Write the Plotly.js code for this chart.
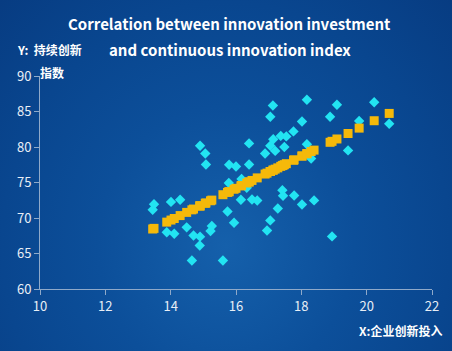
<!DOCTYPE html>
<html><head><meta charset="utf-8">
<script src="https://cdn.plot.ly/plotly-3.0.1.min.js"></script>
<style>
html,body{margin:0;padding:0;}
body{width:452px;height:351px;overflow:hidden;
background: radial-gradient(ellipse at 50% 70%, #1560ab 0%, #0c4f9a 40%, #09468f 70%, #073c82 100%);}
#chart{width:452px;height:351px;}
</style></head>
<body><div id="chart"></div>
<script>
const investX = [13.45,13.49,13.88,14.01,14.11,14.29,14.49,14.65,14.70,14.90,14.90,14.89,15.06,15.08,15.22,15.26,15.60,15.74,15.78,15.79,15.94,16.00,16.15,16.17,16.33,16.40,16.40,16.49,16.65,16.89,16.95,17.05,17.05,17.05,17.13,17.14,17.20,17.28,17.37,17.42,17.44,17.48,17.54,17.76,17.78,18.02,18.02,18.17,18.17,18.30,18.39,18.88,18.94,19.09,19.43,19.77,20.23,20.69];
const indexY = [71.17,71.94,68.0,72.27,67.79,72.58,68.68,64.01,67.54,80.18,67.37,66.13,79.08,77.54,68.17,68.87,64.01,70.92,74.93,77.51,69.34,77.25,72.58,75.49,74.27,80.51,77.54,72.61,72.46,79.08,68.25,84.27,80.18,69.66,85.85,81.10,79.45,71.34,81.56,73.92,73.14,80.01,81.49,82.20,73.17,71.90,83.59,86.66,80.39,78.39,72.48,84.27,67.41,85.96,79.52,83.66,86.31,83.28];
const fittedY = [68.45,68.54,69.42,69.71,69.93,70.34,70.79,71.15,71.26,71.71,71.71,71.69,72.07,72.12,72.43,72.52,73.28,73.60,73.69,73.71,74.05,74.18,74.52,74.57,74.93,75.08,75.08,75.29,75.65,76.19,76.32,76.55,76.55,76.55,76.73,76.75,76.88,77.06,77.27,77.38,77.42,77.51,77.65,78.14,78.19,78.73,78.73,79.06,79.06,79.36,79.56,80.66,80.80,81.13,81.90,82.66,83.70,84.73];
const xTicks = [10,12,14,16,18,20,22];
const yTicks = [60,65,70,75,80,85,90];
const titleLines = ['Correlation between innovation investment','and continuous innovation index'];

const font = '"Noto Sans CJK SC", "Open Sans", sans-serif';
const data = [
  {type:'scatter', mode:'markers', x:investX, y:indexY,
   marker:{symbol:'diamond', size:8, color:'#22e4f2'}, hoverinfo:'x+y'},
  {type:'scatter', mode:'markers', x:investX, y:fittedY,
   marker:{symbol:'square', size:9, color:'#f5b90a'}, hoverinfo:'x+y'}
];
const axisCommon = {
  showgrid:false, zeroline:false, showline:true, linecolor:'#8fa9c9', linewidth:1,
  ticks:'outside', ticklen:5, tickcolor:'#8fa9c9',
  tickfont:{color:'#e8eef6', size:13, family:font}
};
const layout = {
  width:452, height:351,
  paper_bgcolor:'rgba(0,0,0,0)', plot_bgcolor:'rgba(0,0,0,0)',
  margin:{l:40, r:20, t:76, b:62},
  showlegend:false,
  xaxis:Object.assign({}, axisCommon, {range:[10,22], tickvals:xTicks, ticktext:xTicks.map(String)}),
  yaxis:Object.assign({}, axisCommon, {range:[60,90], tickvals:yTicks, ticktext:yTicks.map(String)}),
  annotations:[
    {text:'<b>'+titleLines[0]+'</b>', xref:'paper', yref:'paper', x:0.484, y:1.247, xanchor:'center', yanchor:'middle',
     showarrow:false, font:{color:'#ffffff', size:15, family:font}},
    {text:'<b>'+titleLines[1]+'</b>', xref:'paper', yref:'paper', x:0.484, y:1.125, xanchor:'center', yanchor:'middle',
     showarrow:false, font:{color:'#ffffff', size:15, family:font}},
    {text:'<b>Y:  持续创新</b>', xref:'paper', yref:'paper', x:-0.065, y:1.125, xanchor:'left', yanchor:'middle',
     showarrow:false, font:{color:'#ffffff', size:12, family:font}},
    {text:'<b>指数</b>', xref:'paper', yref:'paper', x:-0.005, y:1.018, xanchor:'left', yanchor:'middle',
     showarrow:false, font:{color:'#ffffff', size:12, family:font}},
    {text:'<b>X:企业创新投入</b>', xref:'paper', yref:'paper', x:1.03, y:-0.197, xanchor:'right', yanchor:'middle',
     showarrow:false, font:{color:'#ffffff', size:12, family:font}}
  ]
};
Plotly.newPlot('chart', data, layout, {displayModeBar:false, staticPlot:true});
</script>
</body></html>
